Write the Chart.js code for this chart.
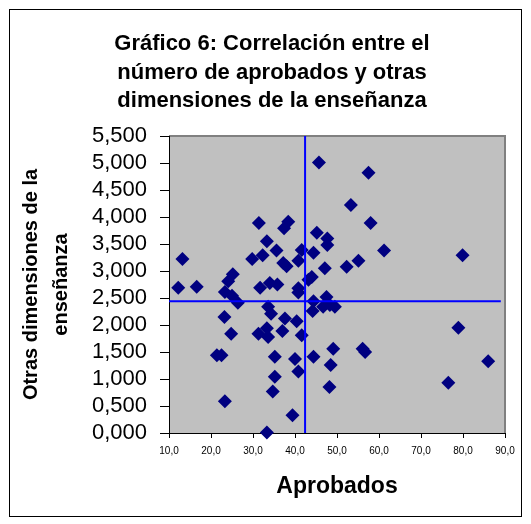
<!DOCTYPE html>
<html>
<head>
<meta charset="utf-8">
<script src="https://cdn.jsdelivr.net/npm/chart.js@4"></script>
<style>
  body { margin: 0; background: #fff; }
</style>
</head>
<body>
<canvas id="correlacion" width="531" height="524"></canvas>
<script>
const titulo = ['Gráfico 6: Correlación entre el', 'número de aprobados y otras', 'dimensiones de la enseñanza'];

const aprobados = [13.2, 12.2, 16.6, 21.4, 22.5, 23.3, 23.2, 24.8, 23.3, 25.0,
  26.4, 24.1, 25.2, 31.4, 33.3, 29.8, 32.3, 35.6, 31.7, 34.0,
  35.8, 33.6, 34.3, 33.3, 31.3, 33.6, 37.0, 37.6, 40.4, 41.6,
  35.2, 40.0, 44.4, 49.1, 56.1, 56.7, 35.2, 40.8, 48.5, 34.7,
  48.2, 39.4, 33.3, 45.7, 57.5, 53.3, 58.0, 38.4, 37.4, 45.2,
  47.7, 47.7, 61.2, 41.6, 44.4, 40.8, 37.2, 38.0, 47.1, 55.1,
  52.3, 44.0, 43.2, 40.8, 40.8, 44.4, 47.5, 46.7, 49.5, 44.2,
  48.3, 79.9, 78.9, 86.0, 76.5];

const otrasDimensiones = [3.22, 2.69, 2.71, 1.44, 1.44, 0.59, 2.15, 1.84, 2.61, 2.54,
  2.41, 2.81, 2.94, 3.89, 3.55, 3.22, 3.29, 3.38, 2.69, 2.78,
  2.75, 2.34, 2.21, 1.94, 1.84, 1.78, 1.89, 2.12, 2.07, 1.81,
  1.41, 1.37, 1.41, 1.56, 1.56, 1.50, 1.04, 1.14, 1.26, 0.77,
  0.85, 0.33, 0.01, 5.01, 4.82, 4.22, 3.89, 3.91, 3.79, 3.71,
  3.60, 3.48, 3.38, 3.39, 3.34, 3.19, 3.15, 3.09, 3.05, 3.19,
  3.08, 2.89, 2.84, 2.68, 2.60, 2.44, 2.52, 2.34, 2.34, 2.26,
  2.37, 3.29, 1.95, 1.33, 0.93];

// lineas de referencia (medias)
const mediaAprobados = 42.4;
const mediaOtras = 2.44;

const xMin = 10, xMax = 90, xPaso = 10;
const yMin = 0, yMax = 5.5, yPaso = 0.5;

const fuente = '"Liberation Sans", Arial, sans-serif';

const fondo = {
  id: 'fondo',
  beforeDraw(chart) {
    const { ctx, chartArea: a } = chart;
    ctx.save();
    ctx.fillStyle = '#fff';
    ctx.fillRect(0, 0, chart.width, chart.height);
    ctx.fillStyle = '#c0c0c0';
    ctx.fillRect(a.left, a.top, a.right - a.left, a.bottom - a.top);
    ctx.strokeStyle = '#808080';
    ctx.lineWidth = 2;
    ctx.beginPath();
    ctx.moveTo(a.left, a.top);
    ctx.lineTo(a.right, a.top);
    ctx.lineTo(a.right, a.bottom);
    ctx.stroke();
    ctx.strokeStyle = '#000';
    ctx.lineWidth = 1;
    ctx.strokeRect(9.5, 9.5, 512, 507);
    ctx.fillStyle = '#000';
    ctx.font = 'bold 22px ' + fuente;
    ctx.textAlign = 'center';
    ctx.textBaseline = 'middle';
    titulo.forEach((t, i) => ctx.fillText(t, 272, 44 + i * 28.5));
    ctx.restore();
  }
};

new Chart(document.getElementById('correlacion'), {
  type: 'scatter',
  data: {
    datasets: [
      {
        data: [{ x: mediaAprobados, y: yMin }, { x: mediaAprobados, y: yMax }],
        showLine: true,
        borderColor: '#0000ff',
        borderWidth: 2,
        pointRadius: 0,
        order: 1
      },
      {
        data: [{ x: xMin, y: mediaOtras }, { x: 89, y: mediaOtras }],
        showLine: true,
        borderColor: '#0000ff',
        borderWidth: 2,
        pointRadius: 0,
        order: 1
      },
      {
        data: aprobados.map((x, i) => ({ x: x, y: otrasDimensiones[i] })),
        pointStyle: 'rectRot',
        pointRadius: 7,
        pointBorderWidth: 0,
        backgroundColor: '#000080',
        borderColor: '#000080',
        clip: false,
        order: 2
      }
    ]
  },
  options: {
    responsive: false,
    animation: false,
    layout: { padding: { left: 10, right: 26, top: 136, bottom: 9 } },
    scales: {
      x: {
        type: 'linear',
        position: 'bottom',
        min: xMin,
        max: xMax,
        afterFit: s => { s.height = 82; },
        ticks: {
          stepSize: xPaso,
          color: '#000',
          padding: 7,
          maxRotation: 0,
          autoSkip: false,
          font: { family: fuente, size: 10 },
          callback: v => v.toFixed(1).replace('.', ',')
        },
        grid: { drawOnChartArea: false, tickLength: 5, tickColor: '#000' },
        border: { color: '#000', width: 1 },
        title: {
          display: true,
          text: 'Aprobados',
          color: '#000',
          font: { family: fuente, size: 23, weight: 'bold' },
          padding: { top: 0, bottom: 15 }
        }
      },
      y: {
        min: yMin,
        max: yMax,
        afterFit: s => { s.width = 159; },
        ticks: {
          stepSize: yPaso,
          color: '#000',
          padding: 13,
          autoSkip: false,
          font: { family: fuente, size: 22 },
          callback: v => v.toFixed(3).replace('.', ',')
        },
        grid: { drawOnChartArea: false, tickLength: 9, tickColor: '#000' },
        border: { color: '#000', width: 1 },
        title: {
          display: true,
          text: ['Otras dimensiones de la', 'enseñanza'],
          color: '#000',
          font: { family: fuente, size: 20, weight: 'bold', lineHeight: 1.5 },
          padding: { top: 6, bottom: 0 }
        }
      }
    },
    plugins: {
      legend: { display: false },
      tooltip: { enabled: false }
    }
  },
  plugins: [fondo]
});
</script>
</body>
</html>
